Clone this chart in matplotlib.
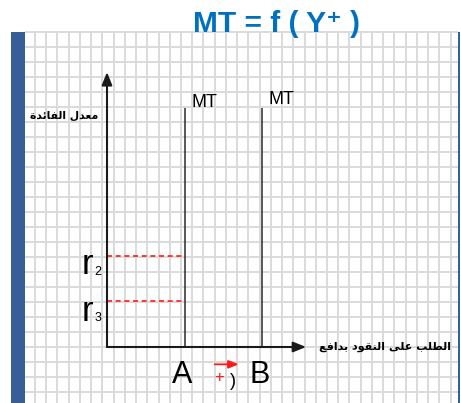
import numpy as np
import matplotlib
matplotlib.use('Agg')
import matplotlib.pyplot as plt
from matplotlib.patches import Rectangle

# diagram values (x: money demand, y: interest rate)
curve_labels = ['A', 'B']
money_demand = [1.0, 2.0]
curve_names = ['MT', 'MT']
mt_top = 5.24
rates = [2.0, 1.0]
rate_subs = ['2', '3']
x_axis_end = 2.57
y_axis_end = 6.03
shift_arrow = [1.39, 1.70]

# arabic labels, written as presentation forms in visual order
y_label = ''.join(chr(c) for c in [0xFEE3, 0xFECC, 0xFEAA, 0xFEDD, 0x20,
                                   0xFE8D, 0xFEDF, 0xFED4, 0xFE8E, 0xFE8B, 0xFEAA, 0xFE93])[::-1]
x_label = ''.join(chr(c) for c in [0xFE8D, 0xFEDF, 0xFEC4, 0xFEE0, 0xFE90, 0x20,
                                   0xFECB, 0xFEE0, 0xFEF0, 0x20,
                                   0xFE8D, 0xFEDF, 0xFEE8, 0xFED8, 0xFEEE, 0xFEA9, 0x20,
                                   0xFE91, 0xFEAA, 0xFE8D, 0xFED3, 0xFECA])[::-1]

W, H = 461, 403
fig = plt.figure(figsize=(W / 100, H / 100), dpi=100)

# background: grid paper + blue border
bg = fig.add_axes([0, 0, 1, 1])
bg.set_xlim(0, W)
bg.set_ylim(H, 0)
bg.axis('off')
grid_col = '#dadada'
for gx in np.arange(35, 457, 11.23):
    bg.plot([gx, gx], [32, H], color=grid_col, lw=1.4, solid_capstyle='butt')
for gy in np.arange(32, H, 15):
    bg.plot([25, 458], [gy, gy], color=grid_col, lw=1.4, solid_capstyle='butt')
bg.add_patch(Rectangle((11, 32), 14, H - 32, color='#365f97', lw=0))
bg.add_patch(Rectangle((457.7, 32), 2.5, H - 32, color='#365f97', lw=0))

bg.text(193, 31.7, 'MT = f ( Y\u207a )', color='#0070c0', fontsize=21.5, fontweight='bold',
        family=['Liberation Sans', 'DejaVu Sans'], ha='left', va='baseline')

# main diagram in data units: origin at pixel (107, 347)
ox, oy, ux, uy = 107, 347, 77.5, 45.6
ax = fig.add_axes([0, 0, 1, 1])
ax.set_xlim(-ox / ux, (W - ox) / ux)
ax.set_ylim(-(H - oy) / uy, oy / uy)
ax.axis('off')
ax.patch.set_alpha(0)

narrow = ['Liberation Sans', 'DejaVu Sans']
axis_col = '#1a1a1a'
head = '-|>,head_length=0.55,head_width=0.22'
ax.annotate('', xy=(x_axis_end, 0), xytext=(0, 0),
            arrowprops=dict(arrowstyle=head, lw=1.5, color=axis_col, shrinkA=0, shrinkB=0, mutation_scale=14))
ax.annotate('', xy=(0, y_axis_end), xytext=(0, 0),
            arrowprops=dict(arrowstyle=head, lw=1.5, color=axis_col, shrinkA=0, shrinkB=0, mutation_scale=14))

ax.vlines(money_demand, 0, mt_top, color='#2b2b2b', lw=1.1)
ax.hlines(rates, 0, money_demand[0], color='#ff1a1a', lw=1.2, linestyles=(0, (3, 2.2)))

for xv, name, dy in zip(money_demand, curve_names, [0, 0.06]):
    ax.text(xv + 0.09, mt_top + 0.03 + dy, name, fontsize=13, family=narrow, ha='left', va='baseline')
for xv, lab in zip(money_demand, curve_labels):
    ax.text(xv - 0.03, -0.79, lab, fontsize=22, family=narrow, ha='center', va='baseline')
for rv, sub in zip(rates, rate_subs):
    base = rv - 0.4 if rv > 1.5 else rv - 0.42
    ax.text(-0.33, base, 'r', fontsize=25, family=narrow, ha='left', va='baseline')
    ax.text(-0.165, base - 0.02, sub, fontsize=9, family=narrow, ha='left', va='baseline')

ax.text(-0.116, 5.07, y_label, fontsize=7.8, fontweight='bold', family='DejaVu Sans',
        ha='right', va='center')
ax.text(4.44, 0.0, x_label, fontsize=8, fontweight='bold', family='DejaVu Sans',
        ha='right', va='center')

# shift from A to B
ax.annotate('', xy=(shift_arrow[1], -0.38), xytext=(shift_arrow[0], -0.38),
            arrowprops=dict(arrowstyle='-|>,head_length=0.5,head_width=0.2', lw=1.3, color='#ff1a1a',
                            shrinkA=0, shrinkB=0, mutation_scale=12))
ax.text(1.45, -0.67, '+', color='#ff1a1a', fontsize=12, family=narrow, ha='center', va='center')
ax.text(1.62, -0.75, ')', fontsize=13, family=narrow, ha='center', va='center')

fig.savefig('out.png', dpi=100)
